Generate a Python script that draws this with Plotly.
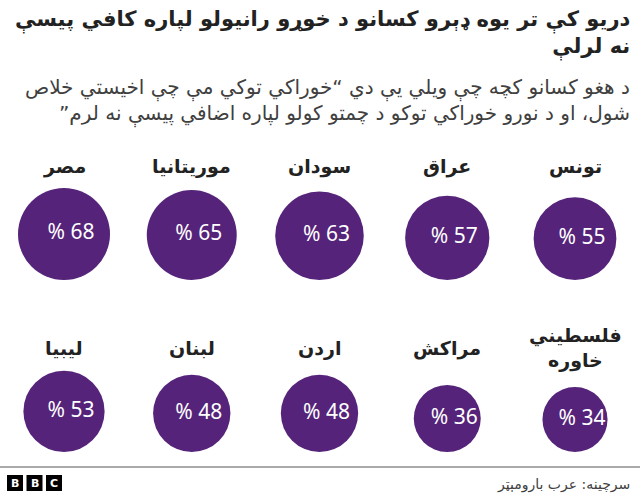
import math
import plotly.graph_objects as go

# ---- data ----
countries_row1 = ["تونس", "عراق", "سودان", "موریتانیا", "مصر"]
values_row1 = [55, 57, 63, 65, 68]
countries_row2 = ["فلسطیني<br>خاوره", "مراکش", "اردن", "لبنان", "لیبیا"]
values_row2 = [34, 36, 48, 48, 53]

title_lines = ["دریو کې تر یوه ډېرو کسانو د خوړو رانیولو لپاره کافي پیسې", "نه لرلې"]
subtitle_lines = ["د هغو کسانو کچه چې ویلي یې دي “خوراکي توکي مې چې اخیستي خلاص",
                  "شول، او د نورو خوراکي توکو د چمتو کولو لپاره اضافي پیسې نه لرم”"]
source_text = "سرچینه: عرب بارومېټر"

# ---- layout constants ----
W, H = 640, 499
PURPLE = "#55237a"
RLM = "\u200f"
col_x0, col_step = 575, 127.75
max_diam = 92.0
all_vals = values_row1 + values_row2
sizeref = 2.0 * max(all_vals) / (max_diam ** 2)

def diam(v):
    return 2 * math.sqrt(v / (2 * sizeref))

rows = [
    dict(names=countries_row1, vals=values_row1, bottom=280, label_y=166),
    dict(names=countries_row2, vals=values_row2, bottom=452, label_y=348),
]

fig = go.Figure()
annotations = []
for r in rows:
    xs = [col_x0 - col_step * i for i in range(len(r["vals"]))]
    ys = [r["bottom"] - diam(v) / 2 for v in r["vals"]]
    fig.add_trace(go.Scatter(
        x=xs, y=ys, mode="markers",
        marker=dict(size=r["vals"], sizemode="area", sizeref=sizeref,
                    color=PURPLE, opacity=1, line=dict(width=0)),
        hoverinfo="skip", showlegend=False))
    fig.add_trace(go.Scatter(
        x=[x + 7 for x in xs], y=ys, mode="text",
        text=[f"% {v}" for v in r["vals"]],
        textposition="middle center",
        textfont=dict(family="Noto Sans", size=21, color="white"),
        hoverinfo="skip", showlegend=False))
    for x, name in zip(xs, r["names"]):
        annotations.append(dict(
            x=x, y=r["label_y"], xref="x", yref="y", text=f"<b>{name}</b>",
            showarrow=False, xanchor="center", yanchor="middle",
            font=dict(family="DejaVu Sans", size=19, color="#222222")))

# title
annotations.append(dict(
    x=632, y=5, xref="x", yref="y", xanchor="right", yanchor="top", align="right",
    text="<br>".join(f"<b>{RLM}{t}{RLM}</b>" for t in title_lines), showarrow=False,
    font=dict(family="DejaVu Sans", size=21, color="#222222")))
# subtitle
annotations.append(dict(
    x=632, y=73, xref="x", yref="y", xanchor="right", yanchor="top", align="right",
    text="<br>".join(f"{RLM}{t}{RLM}" for t in subtitle_lines), showarrow=False,
    font=dict(family="DejaVu Sans", size=20, color="#404040")))
# source
annotations.append(dict(
    x=632, y=484, xref="x", yref="y", xanchor="right", yanchor="middle",
    text=RLM + source_text + RLM, showarrow=False,
    font=dict(family="DejaVu Sans", size=14, color="#404040")))

shapes = [dict(type="line", x0=0, x1=W, y0=467, y1=467, xref="x", yref="y",
               line=dict(color="#555555", width=1))]
for i, letter in enumerate("BBC"):
    x0 = 7 + i * 19.5
    shapes.append(dict(type="rect", x0=x0, x1=x0 + 16, y0=475, y1=491,
                       xref="x", yref="y", fillcolor="black", line=dict(width=0)))
    annotations.append(dict(x=x0 + 8, y=483, xref="x", yref="y", text=f"<b>{letter}</b>",
                            showarrow=False, xanchor="center", yanchor="middle",
                            font=dict(family="DejaVu Sans", size=11, color="white")))

fig.update_layout(
    width=W, height=H, margin=dict(l=0, r=0, t=0, b=0),
    paper_bgcolor="white", plot_bgcolor="white",
    xaxis=dict(range=[0, W], visible=False, fixedrange=True),
    yaxis=dict(range=[H, 0], visible=False, fixedrange=True),
    annotations=annotations, shapes=shapes,
)
fig.write_html("out.html")
